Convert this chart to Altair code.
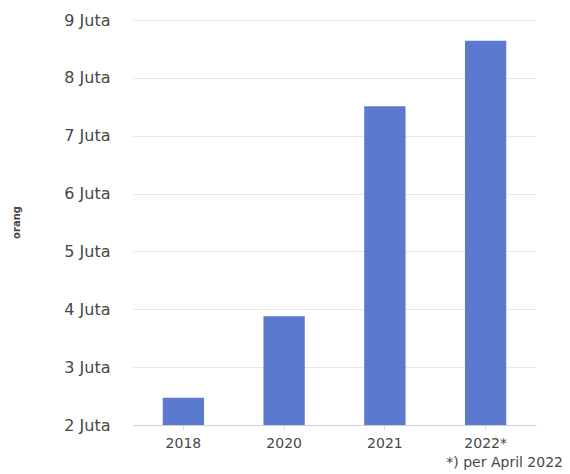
import altair as alt
import pandas as pd

years = ["2018", "2020", "2021", "2022*"]
values = [2.47, 3.88, 7.51, 8.64]
y_ticks = [2, 3, 4, 5, 6, 7, 8, 9]
footnote = ["*) per April 2022"]
y_title = "orang"

df = pd.DataFrame({"tahun": years, "orang": values, "base": [2] * len(years)})
note_df = pd.DataFrame({"t": footnote})

FONT = "DejaVu Sans"
TXT = "#474747"

bars = alt.Chart(df).mark_bar(color="#5b79cf", clip=True).encode(
    x=alt.X(
        "tahun:N",
        sort=years,
        scale=alt.Scale(paddingInner=0.59, paddingOuter=0.295),
        axis=alt.Axis(
            title=None, labelAngle=0, labelFont=FONT, labelFontSize=14,
            labelColor=TXT, labelPadding=6, tickSize=5, tickColor="#dddddd",
            domainColor="#cfcfcf", grid=False,
        ),
    ),
    y=alt.Y(
        "orang:Q",
        scale=alt.Scale(domain=[2, 9], zero=False, nice=False),
        axis=alt.Axis(
            values=y_ticks, labelExpr="datum.value + ' Juta'", ticks=False,
            domain=False, grid=True, gridColor="#e8e8e8", labelPadding=23,
            labelFont=FONT, labelFontSize=16, labelColor=TXT,
            title=y_title, titleFont=FONT, titleFontSize=10,
            titleFontWeight="bold", titleColor=TXT, titleAngle=270,
            titleX=-117, titleY=202, titleAlign="center", titleBaseline="middle",
        ),
    ),
    y2="base:Q",
)

note = alt.Chart(note_df).mark_text(
    align="right", baseline="middle", font=FONT, fontSize=14, color=TXT
).encode(x=alt.value(430), y=alt.value(443), text="t:N")

chart = alt.layer(bars, note).properties(
    width=403,
    height=405,
    autosize="none",
    padding={"left": 133, "top": 20, "right": 34, "bottom": 49},
).configure_view(stroke=None)

chart.save("out.html", embed_options={"renderer": "svg", "actions": False})
